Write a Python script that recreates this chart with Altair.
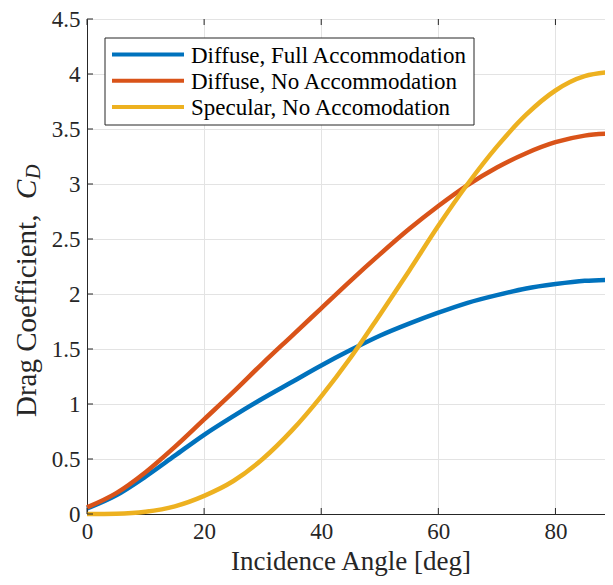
import altair as alt
import pandas as pd

# ---- data ----
angles = [0, 5, 10, 15, 20, 25, 30, 35, 40, 45, 50, 55, 60, 65, 70, 75, 80, 85, 90]
diffuse_full = [0.05, 0.17, 0.34, 0.53, 0.72, 0.89, 1.05, 1.20, 1.35, 1.49, 1.62, 1.73,
                1.83, 1.92, 1.99, 2.05, 2.09, 2.12, 2.13]
diffuse_none = [0.06, 0.19, 0.38, 0.61, 0.86, 1.11, 1.37, 1.62, 1.87, 2.12, 2.36, 2.59,
                2.80, 2.99, 3.15, 3.28, 3.38, 3.44, 3.46]
specular_none = [0.0, 0.003, 0.021, 0.07, 0.165, 0.30, 0.50, 0.76, 1.07, 1.42, 1.81, 2.21,
                 2.62, 3.00, 3.34, 3.63, 3.85, 3.98, 4.02]
series_names = ["Diffuse, Full Accommodation", "Diffuse, No Accommodation",
                "Specular, No Accomodation"]
series_colors = ["#0072BD", "#D95319", "#EDB120"]
x_ticks = [0, 20, 40, 60, 80]
y_ticks = [0, 0.5, 1, 1.5, 2, 2.5, 3, 3.5, 4, 4.5]
x_title = "Incidence Angle [deg]"
y_title_main = ["Drag Coefficient,"]
y_title_sym = ["C"]
y_title_sub = ["D"]

FONT = "Liberation Serif"
INK = "#262626"
W, H = 527, 495
# right padding is negative: the frame's right edge (90 deg) falls just outside
# the picture, as in the reference
PAD = {"left": 79, "top": 11, "right": -9, "bottom": 63}

rows = []
for name, vals in zip(series_names, [diffuse_full, diffuse_none, specular_none]):
    for a, v in zip(angles, vals):
        rows.append({"angle": a, "cd": v, "series": name})
df = pd.DataFrame(rows)

xscale = alt.Scale(domain=[0, 90], nice=False, zero=False)
yscale = alt.Scale(domain=[0, 4.5], nice=False)

lines = alt.Chart(df).mark_line(strokeWidth=4.5, interpolate="monotone").encode(
    x=alt.X("angle:Q", scale=xscale,
            axis=alt.Axis(title=x_title, values=x_ticks, format="~g")),
    y=alt.Y("cd:Q", scale=yscale,
            axis=alt.Axis(title=None, values=y_ticks, format="~g")),
    color=alt.Color("series:N", sort=series_names,
                    scale=alt.Scale(domain=series_names, range=series_colors),
                    legend=None),
)

xt = pd.DataFrame({"v": x_ticks})
yt = pd.DataFrame({"v": y_ticks})
tick_bottom = alt.Chart(xt).mark_rule(color=INK, strokeWidth=1).encode(
    x=alt.X("v:Q", scale=xscale), y=alt.value(H), y2=alt.value(H - 6))
tick_top = alt.Chart(xt).mark_rule(color=INK, strokeWidth=1).encode(
    x=alt.X("v:Q", scale=xscale), y=alt.value(0), y2=alt.value(6))
tick_left = alt.Chart(yt).mark_rule(color=INK, strokeWidth=1).encode(
    y=alt.Y("v:Q", scale=yscale), x=alt.value(0), x2=alt.value(6))
tick_right = alt.Chart(yt).mark_rule(color=INK, strokeWidth=1).encode(
    y=alt.Y("v:Q", scale=yscale), x=alt.value(W), x2=alt.value(W - 6))

# ---- legend (drawn by hand so the long line samples keep tight rows) ----
LX0, LX1, LY0, LY1 = 18, 387, 19, 106
ROW0, ROWSTEP = 35.5, 26.3
legend_box = alt.Chart(pd.DataFrame({"k": [0]})).mark_rect(
    fill="white", stroke=INK, strokeWidth=1
).encode(x=alt.value(LX0), x2=alt.value(LX1), y=alt.value(LY0), y2=alt.value(LY1))
legend_layers = [legend_box]
for i, (name, col) in enumerate(zip(series_names, series_colors)):
    ry = ROW0 + i * ROWSTEP
    ldf = pd.DataFrame({"t": [name]})
    legend_layers.append(alt.Chart(ldf).mark_rule(color=col, strokeWidth=4).encode(
        x=alt.value(25), x2=alt.value(97), y=alt.value(ry)))
    legend_layers.append(alt.Chart(ldf).mark_text(
        align="left", baseline="middle", font=FONT, fontSize=23, color="black"
    ).encode(text="t:N", x=alt.value(104), y=alt.value(ry + 1)))

# ---- y title: "Drag Coefficient, C_D" ----
t_main = alt.Chart(pd.DataFrame({"t": y_title_main})).mark_text(
    angle=270, align="left", baseline="middle", font=FONT, fontSize=29, color=INK
).encode(text="t:N", x=alt.value(-60), y=alt.value(398))
t_sym = alt.Chart(pd.DataFrame({"t": y_title_sym})).mark_text(
    angle=270, align="left", baseline="middle", font=FONT, fontSize=29,
    fontStyle="italic", color=INK
).encode(text="t:N", x=alt.value(-60), y=alt.value(180))
t_sub = alt.Chart(pd.DataFrame({"t": y_title_sub})).mark_text(
    angle=270, align="left", baseline="middle", font=FONT, fontSize=20,
    fontStyle="italic", color=INK
).encode(text="t:N", x=alt.value(-53), y=alt.value(160))

chart = alt.layer(
    lines, tick_bottom, tick_top, tick_left, tick_right, *legend_layers,
    t_main, t_sym, t_sub
).properties(
    width=W, height=H, padding=PAD,
    autosize=alt.AutoSizeParams(type="none")
).configure_view(
    stroke=INK, strokeWidth=1
).configure_axis(
    labelFont=FONT, labelFontSize=23, labelColor=INK, labelFlush=False,
    titleFont=FONT, titleFontSize=27, titleColor=INK, titleFontWeight="normal",
    domainColor=INK, domainWidth=1, ticks=False,
    gridColor="#e3e3e3", gridWidth=1,
).configure_axisX(
    labelPadding=6, titlePadding=5
).configure_axisY(
    labelPadding=7
)

chart.save("out.html", embed_options={"renderer": "svg", "actions": False})
